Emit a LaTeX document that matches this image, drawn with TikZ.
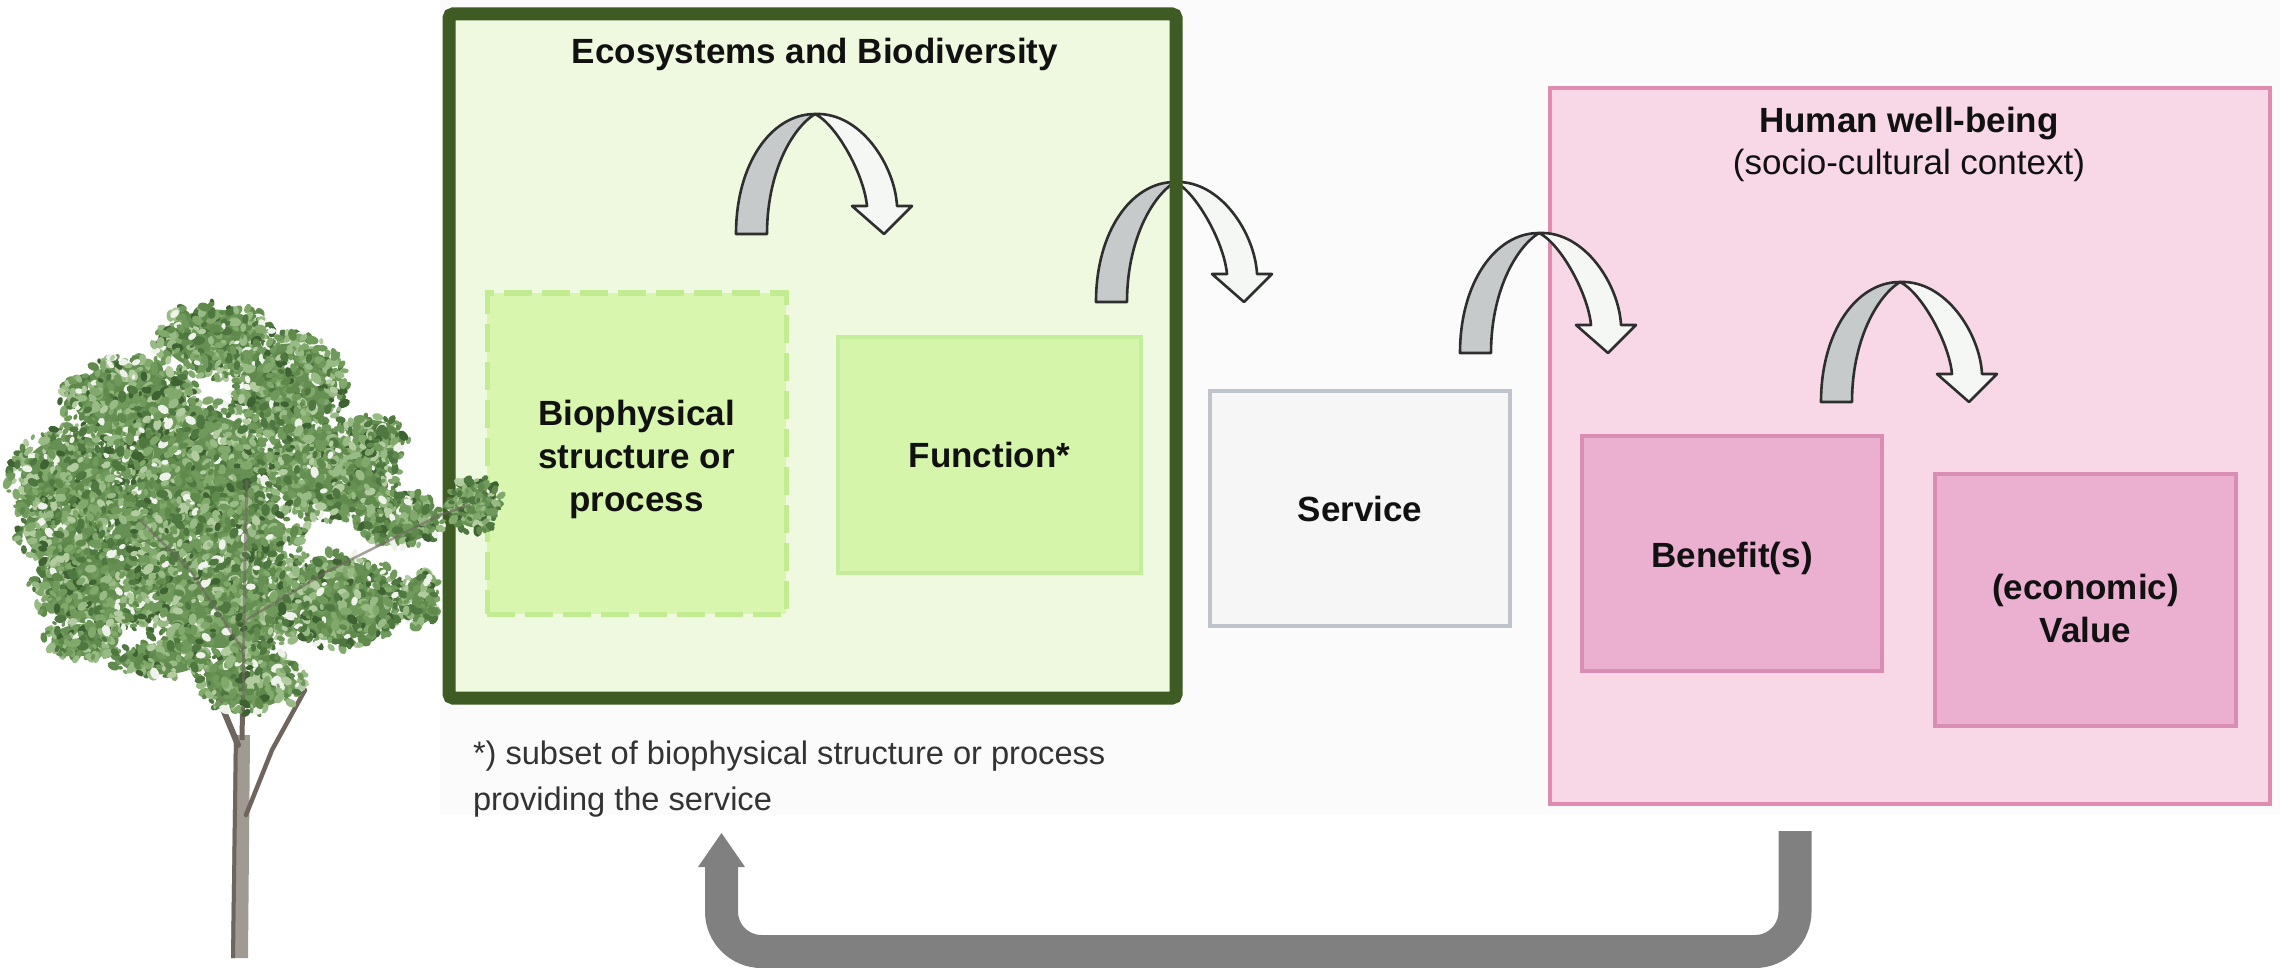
\documentclass[tikz,border=0pt]{standalone}
\usepackage{fontspec}
\setmainfont{Liberation Sans}
\definecolor{ecodark}{HTML}{3D5B22}
\definecolor{ecofill}{HTML}{EEF9DF}
\definecolor{biofill}{HTML}{D8F6AD}
\definecolor{bioline}{HTML}{C2EC92}
\definecolor{funfill}{HTML}{D5F5AA}
\definecolor{funline}{HTML}{C4EE9C}
\definecolor{servfill}{HTML}{F6F6F6}
\definecolor{servline}{HTML}{BFC3CB}
\definecolor{hwfill}{HTML}{F8D8E7}
\definecolor{hwline}{HTML}{DE8DB0}
\definecolor{benfill}{HTML}{EBAFD0}
\definecolor{benline}{HTML}{D98DB2}
\definecolor{archgray}{HTML}{C6CACA}
\definecolor{archwhite}{HTML}{F5F7F5}
\definecolor{archline}{HTML}{2E2E2E}
\definecolor{fbgray}{HTML}{808080}
\definecolor{notegray}{HTML}{333333}
\definecolor{paneback}{HTML}{FBFBFB}
\definecolor{textblack}{HTML}{111111}
\definecolor{tgA}{HTML}{4E7840}
\definecolor{tgB}{HTML}{5F8A4C}
\definecolor{tgC}{HTML}{6F9A5B}
\definecolor{tgD}{HTML}{82A96C}
\definecolor{tgE}{HTML}{98BA84}
\definecolor{tgF}{HTML}{3F6232}
\definecolor{tgG}{HTML}{B2CCA0}
\definecolor{tgW}{HTML}{EEF2EA}
\definecolor{tgBase}{HTML}{668F53}
\definecolor{trunkc}{HTML}{A09A93}
\definecolor{trunkd}{HTML}{6E665E}
\newcommand\dgboxfont{\fontsize{35}{43}\selectfont\bfseries}
\newcommand\dgsubfont{\fontsize{35}{43}\selectfont}
\newcommand\dgnotefont{\fontsize{32.6}{40}\selectfont}
\pgfmathdeclarerandomlist{leafcols}{{tgA}{tgB}{tgC}{tgD}{tgE}{tgF}{tgB}{tgC}{tgD}{tgA}{tgG}{tgC}{tgE}{tgW}}
\newcommand\dgclusters{215/340/62/38/330, 130/400/70/45/380, 290/385/58/52/370,
  75/480/68/55/440, 200/470/85/70/620, 330/470/72/52/440,
  400/520/45/28/200, 100/585/72/50/420, 220/600/90/60/560,
  335/600/72/50/400, 250/680/55/35/200, 85/640/42/20/120,
  475/505/28/28/150, 420/600/20/30/80, 160/660/50/18/100, 370/440/40/25/130,
  200/535/110/40/350, 60/530/45/35/150}
\begin{document}
\begin{tikzpicture}[x=1pt,y=-1pt,
  every node/.style={inner sep=0pt, outer sep=0pt},
  ecobox/.style={rectangle, fill=ecofill, rounded corners=3pt},
  ecoborder/.style={draw=ecodark, line width=13pt, rounded corners=4pt},
  biobox/.style={rectangle, fill=biofill, draw=bioline, line width=5pt, dash pattern=on 28pt off 10pt},
  funbox/.style={rectangle, fill=funfill, draw=funline, line width=3.5pt, font=\dgboxfont, text=textblack},
  servbox/.style={rectangle, fill=servfill, draw=servline, line width=4pt, font=\dgboxfont, text=textblack},
  hwbox/.style={rectangle, fill=hwfill, draw=hwline, line width=4pt},
  benbox/.style={rectangle, fill=benfill, draw=benline, line width=4pt},
  boxtext/.style={align=center, font=\dgboxfont, text=textblack},
  titletext/.style={font=\dgboxfont, text=textblack},
  subtext/.style={font=\dgsubfont, text=textblack},
  notetext/.style={font=\dgnotefont, text=notegray},
  archedge/.style={draw=archline, line width=2.6pt, line join=round},
  fbline/.style={draw=fbgray, line width=33pt, rounded corners=40pt},
  uarr/.pic={
    \path[archedge, fill=archgray] (0,0) .. controls (0,-70) and (35,-120) .. (79,-120)
      .. controls (55,-105) and (31,-60) .. (31,0) -- cycle;
    \path[archedge, fill=archwhite] (79,-120) .. controls (125,-122) and (159,-68) .. (161,-28)
      -- (176,-28) -- (148,0) -- (116,-28) -- (131,-28)
      .. controls (128,-60) and (100,-110) .. (79,-120) -- cycle;
  }
]
\path[use as bounding box] (0,0) rectangle (2280,968);
\fill[white] (0,0) rectangle (2280,968);
\fill[paneback] (440,0) rectangle (2280,815);

% ecosystems panel (fill)
\node[ecobox, minimum width=727pt, minimum height=684pt] (eco) at (812.5,356) {};
\node[titletext, anchor=base] (ecotitle) at (815,64) {Ecosystems and Biodiversity};

\node[biobox, minimum width=299pt, minimum height=321pt] (bio) at (636.5,453.5) {};
\node[boxtext] (biotext) at ([yshift=-6pt]bio.center) {Biophysical\\structure or\\process};

\node[funbox, minimum width=303pt, minimum height=236pt] (fun) at (989.5,455) {Function*};

\node[servbox, minimum width=300pt, minimum height=235pt] (serv) at (1360,508.5) {Service};

% human well-being panel
\node[hwbox, minimum width=720pt, minimum height=716pt] (hw) at (1910,446) {};
\node[titletext, anchor=base] (hwtitle) at (1909,133) {Human well-being};
\node[subtext, anchor=base] (hwsub) at (1909,175) {(socio-cultural context)};

\node[benbox, minimum width=300pt, minimum height=235pt] (ben) at (1732,553.5) {};
\node[boxtext] (bentext) at ([yshift=-5pt]ben.center) {Benefit(s)};

\node[benbox, minimum width=301pt, minimum height=252pt] (val) at (2085.5,600) {};
\node[boxtext] (valtext) at ([yshift=-8pt]val.center) {(economic)\\Value};

% footnote
\node[notetext, anchor=base west] (note1) at (473,764) {*) subset of biophysical structure or process};
\node[notetext, anchor=base west] (note2) at (473,810) {providing the service};

% curved arrows
\pic (arrA) at (736,234) {uarr};
\pic (arrB) at (1096,302) {uarr};
\pic (arrC) at (1460,353) {uarr};
\pic (arrD) at (1821,402) {uarr};

% ecosystems border on top
\draw[ecoborder] (eco.north west) rectangle (eco.south east);

% feedback arrow
\coordinate (fbstart) at (1795,831);
\coordinate (fbcornerR) at (1795,951.5);
\coordinate (fbcornerL) at (721.5,951.5);
\coordinate (fbend) at (721.5,866);
\coordinate (fbheadL) at (698,867);
\coordinate (fbtip) at (721.5,833);
\coordinate (fbheadR) at (745,867);
\draw[fbline] (fbstart) -- (fbcornerR) -- (fbcornerL) -- (fbend);
\fill[fbgray] (fbheadL) -- (fbtip) -- (fbheadR) -- cycle;

% tree: trunk and branches
\fill[trunkc] (231,958) -- (234,735) -- (250,735) -- (248,958) -- cycle;
\fill[trunkd] (231,958) -- (234,735) -- (238,735) -- (235,958) -- cycle;
\draw[trunkd, line width=6pt, line cap=round] (238,745) -- (215,690) -- (200,650);
\draw[trunkd, line width=4.5pt, line cap=round] (246,815) -- (272,750) -- (305,690);
\draw[trunkd, line width=5pt] (242,740) -- (244,620) -- (247,500);
% tree: foliage base
\foreach \cx/\cy/\rx/\ry/\nn in \dgclusters {
  \fill[tgBase] (\cx,\cy) ellipse [x radius=0.8*\rx, y radius=0.8*\ry];
}
% tree: leaves
\pgfmathsetseed{4242}
\foreach \cx/\cy/\rx/\ry/\nn in \dgclusters {
  \foreach \i in {1,...,\nn} {
    \pgfmathsetmacro{\ang}{360*rnd}
    \pgfmathsetmacro{\rr}{sqrt(rnd)}
    \pgfmathsetmacro{\lx}{\cx+\rx*\rr*cos(\ang)}
    \pgfmathsetmacro{\ly}{\cy+\ry*\rr*sin(\ang)}
    \pgfmathsetmacro{\lr}{2.5+4*rnd}
    \pgfmathsetmacro{\rot}{180*rnd}
    \pgfmathrandomitem{\lc}{leafcols}
    \fill[\lc, rotate around={\rot:(\lx,\ly)}] (\lx,\ly) ellipse [x radius=\lr, y radius=0.65*\lr];
  }
}
\draw[trunkd, line width=2.5pt, opacity=0.6] (243,650) -- (190,570) -- (140,520);
\draw[trunkd, line width=2.5pt, opacity=0.6] (246,620) -- (330,570) -- (440,515) -- (470,505);
\draw[trunkd, line width=3pt, opacity=0.6] (243,700) -- (245,560) -- (247,480);
\end{tikzpicture}
\end{document}
